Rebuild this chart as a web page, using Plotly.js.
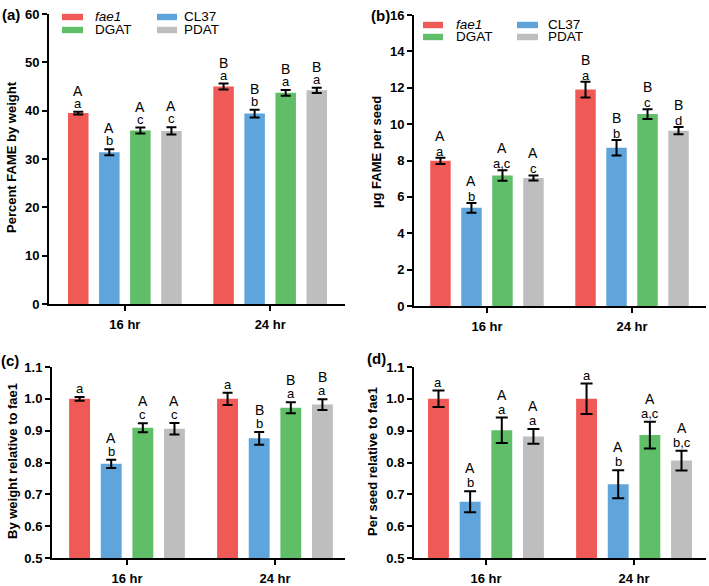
<!DOCTYPE html>
<html><head><meta charset="utf-8">
<script src="https://cdn.plot.ly/plotly-3.0.1.min.js"></script>
<style>html,body{margin:0;padding:0;background:#fff}</style>
</head><body><div id="chart" style="width:709px;height:586px"></div>
<script>
// ---------- data ----------
const groups = ['16 hr', '24 hr'];
const lines = ['fae1', 'CL37', 'DGAT', 'PDAT'];
const colors = ['#EF5A57', '#5FA4DB', '#60BD68', '#BEBEBE'];

// (a) Percent FAME by weight  [16 hr, 24 hr] per line
const aMeans = [[39.5, 45.0], [31.4, 39.4], [35.9, 43.7], [35.8, 44.2]];
const aErr   = [[0.3, 0.6], [0.6, 0.8], [0.6, 0.6], [0.75, 0.55]];
const aUpper = [['A', 'B'], ['A', 'B'], ['A', 'B'], ['A', 'B']];
const aLower = [['a', 'a'], ['b', 'b'], ['c', 'a'], ['c', 'a']];

// (b) µg FAME per seed
const bMeans = [[7.98, 11.9], [5.4, 8.7], [7.18, 10.55], [7.04, 9.64]];
const bErr   = [[0.17, 0.43], [0.27, 0.43], [0.29, 0.27], [0.14, 0.2]];
const bUpper = [['A', 'B'], ['A', 'B'], ['A', 'B'], ['A', 'B']];
const bLower = [['a', 'a'], ['b', 'b'], ['a,c', 'c'], ['c', 'd']];

// (c) By weight relative to fae1
const cMeans = [[1.0, 1.0], [0.796, 0.876], [0.909, 0.972], [0.906, 0.982]];
const cErr   = [[0.006, 0.019], [0.013, 0.02], [0.014, 0.017], [0.018, 0.017]];
const cUpper = [['', ''], ['A', 'B'], ['A', 'B'], ['A', 'B']];
const cLower = [['a', 'a'], ['b', 'b'], ['c', 'a'], ['c', 'a']];

// (d) Per seed relative to fae1
const dMeans = [[1.0, 1.0], [0.677, 0.732], [0.901, 0.886], [0.882, 0.806]];
const dErr   = [[0.026, 0.048], [0.033, 0.044], [0.04, 0.042], [0.023, 0.031]];
const dUpper = [['', ''], ['A', 'A'], ['A', 'A'], ['A', 'A']];
const dLower = [['a', 'a'], ['b', 'b'], ['a', 'a,c'], ['a', 'b,c']];

// ---------- layout helpers ----------
const W = 709, H = 586;
const FONT = 'Liberation Sans, Arial, Helvetica, sans-serif';
const px = v => v / W;
const py = v => 1 - v / H;
const BARGAP = 0.145, BARGROUPGAP = 0.34;

const panels = [
  {id: '(a)', means: aMeans, errs: aErr, up: aUpper, low: aLower, xa: 'x', ya: 'y',
   xdom: [49, 345], ydom: [14, 304], xr: [-0.522, 1.515], yr: [0, 60], dtick: 10, fmt: '',
   title: 'Percent FAME by weight', titleX: 11, titleY: 157, lowShift: 0, gap: 12, cap: 5,
   label: [1, 14]},
  {id: '(b)', means: bMeans, errs: bErr, up: bUpper, low: bLower, xa: 'x2', ya: 'y2',
   xdom: [414, 706], ydom: [15, 306], xr: [-0.503, 1.51], yr: [0, 16], dtick: 2, fmt: '',
   title: 'µg FAME per seed', titleX: 377, titleY: 152, lowShift: -2, gap: 15, cap: 5,
   label: [370, 15]},
  {id: '(c)', means: cMeans, errs: cErr, up: cUpper, low: cLower, xa: 'x3', ya: 'y3',
   xdom: [52, 345], ydom: [367, 558], xr: [-0.507, 1.473], yr: [0.5, 1.1], dtick: 0.1, fmt: '.1f',
   title: 'By weight relative to fae1', titleX: 12, titleY: 461, lowShift: 0, gap: 13, cap: 5,
   label: [0, 361]},
  {id: '(d)', means: dMeans, errs: dErr, up: dUpper, low: dLower, xa: 'x4', ya: 'y4',
   xdom: [414, 706], ydom: [367, 558], xr: [-0.486, 1.486], yr: [0.5, 1.1], dtick: 0.1, fmt: '.1f',
   title: 'Per seed relative to fae1', titleX: 372, titleY: 462, lowShift: 0, gap: 14, cap: 6,
   label: [366, 358]}
];

const traces = [];
const annotations = [];
const shapes = [];
const layout = {
  width: W, height: H,
  margin: {l: 0, r: 0, t: 0, b: 0},
  paper_bgcolor: '#fff', plot_bgcolor: 'rgba(0,0,0,0)',
  barmode: 'group', bargap: BARGAP, bargroupgap: BARGROUPGAP,
  showlegend: false,
  font: {family: FONT, color: '#000'}
};

const groupW = 1 - BARGAP;
panels.forEach((p, pi) => {
  const n = pi === 0 ? '' : String(pi + 1);
  lines.forEach((ln, i) => {
    traces.push({
      type: 'bar', name: ln, x: groups, y: p.means[i],
      xaxis: p.xa, yaxis: p.ya,
      marker: {color: colors[i], line: {width: 0}},
      error_y: {type: 'data', array: p.errs[i], visible: true, color: '#000', thickness: 2, width: p.cap},
      hoverinfo: 'skip'
    });
    groups.forEach((g, gi) => {
      const xo = gi - groupW / 2 + (i + 0.5) * groupW / lines.length;
      const yTop = p.means[i][gi] + p.errs[i][gi];
      annotations.push({
        xref: p.xa, yref: p.ya, x: xo, y: yTop, yanchor: 'bottom', xanchor: 'center',
        text: p.low[i][gi], showarrow: false, yshift: p.lowShift, borderpad: 0,
        font: {family: FONT, size: 13, color: '#000'}
      });
      if (p.up[i][gi]) {
        annotations.push({
          xref: p.xa, yref: p.ya, x: xo, y: yTop, yanchor: 'bottom', xanchor: 'center',
          text: p.up[i][gi], showarrow: false, yshift: p.lowShift + p.gap, borderpad: 0,
          font: {family: FONT, size: 14, color: '#000'}
        });
      }
    });
  });
  const axStyle = {
    showline: true, linewidth: 2, linecolor: '#000',
    ticks: 'outside', ticklen: 5, tickwidth: 2, tickcolor: '#000',
    showgrid: false, zeroline: false, fixedrange: true
  };
  layout['xaxis' + n] = Object.assign({}, axStyle, {
    domain: [px(p.xdom[0]), px(p.xdom[1])], anchor: p.ya, type: 'category',
    range: p.xr, tickfont: {family: FONT, size: 13, weight: 'bold', color: '#000'},
    ticklabelstandoff: 2
  });
  layout['yaxis' + n] = Object.assign({}, axStyle, {
    domain: [py(p.ydom[1]), py(p.ydom[0])], anchor: p.xa,
    range: p.yr, dtick: p.dtick, tick0: p.yr[0], tickformat: p.fmt,
    tickfont: {family: FONT, size: 13, weight: 'bold', color: '#000'}
  });
  // y-axis title
  annotations.push({
    xref: 'paper', yref: 'paper', x: px(p.titleX), y: py(p.titleY),
    xanchor: 'center', yanchor: 'middle', textangle: -90, showarrow: false,
    text: p.title, font: {family: FONT, size: 13, weight: 'bold', color: '#000'}
  });
  // panel label
  annotations.push({
    xref: 'paper', yref: 'paper', x: px(p.label[0]), y: py(p.label[1]),
    xanchor: 'left', yanchor: 'middle', showarrow: false, borderpad: 0,
    text: p.id, font: {family: FONT, size: 15, weight: 'bold', color: '#000'}
  });
});

// legends for panels (a) and (b): swatch + label, two columns
const legendSpecs = [
  {rows: [17, 30], sw: [[62, 83], [157, 177]], tx: [94, 183]},
  {rows: [25, 37], sw: [[423, 443], [517, 538]], tx: [455, 547]}
];
legendSpecs.forEach(L => {
  lines.forEach((ln, i) => {
    const col = i % 2, row = Math.floor(i / 2);
    const cy = L.rows[row];
    shapes.push({
      type: 'rect', xref: 'paper', yref: 'paper',
      x0: px(L.sw[col][0]), x1: px(L.sw[col][1]), y0: py(cy + 3.2), y1: py(cy - 3.2),
      fillcolor: colors[i], line: {width: 0}
    });
    annotations.push({
      xref: 'paper', yref: 'paper', x: px(L.tx[col]), y: py(cy),
      xanchor: 'left', yanchor: 'middle', showarrow: false, borderpad: 0,
      text: ln === 'fae1' ? '<i>fae1</i>' : ln,
      font: {family: FONT, size: 13.5, color: '#000'}
    });
  });
});

layout.annotations = annotations;
layout.shapes = shapes;
Plotly.newPlot('chart', traces, layout, {displayModeBar: false, staticPlot: true});
</script>
</body></html>
